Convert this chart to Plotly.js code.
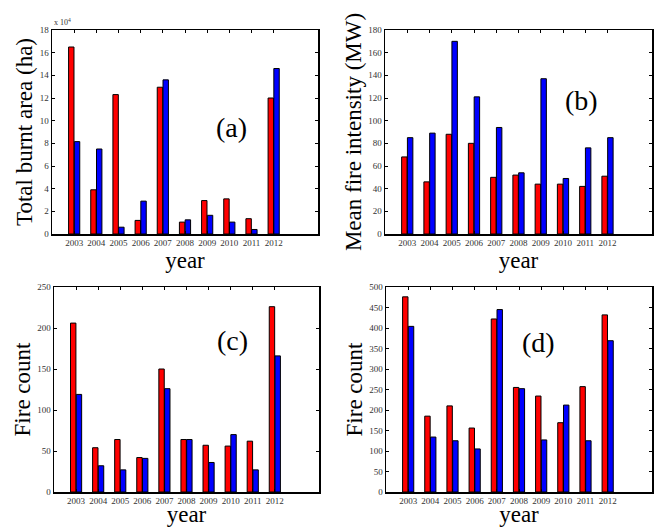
<!DOCTYPE html>
<html>
<head>
<meta charset="utf-8">
<script src="https://cdn.plot.ly/plotly-3.0.1.min.js"></script>
<style>html,body{margin:0;padding:0;background:#fff;}#chart{width:656px;height:527px;}</style>
</head>
<body>
<div id="chart"></div>
<script>
// Years (categories)
const years = [2003, 2004, 2005, 2006, 2007, 2008, 2009, 2010, 2011, 2012];
const yearLabels = ["2003","2004","2005","2006","2007","2008","2009","2010","2011","2012"];

// (a) Total burnt area (ha), in units of 10^4 ha
const burntRed  = [16.5, 3.9, 12.3, 1.2, 12.95, 1.05, 2.95, 3.1, 1.35, 12.0];
const burntBlue = [8.15, 7.5, 0.6, 2.9, 13.6, 1.25, 1.65, 1.05, 0.4, 14.6];
const burntTicks = [0, 2, 4, 6, 8, 10, 12, 14, 16, 18];

// (b) Mean fire intensity (MW)
const intensityRed  = [68, 46, 88, 80, 50, 52, 44, 44, 42, 51];
const intensityBlue = [85, 89, 170, 121, 94, 54, 137, 49, 76, 85];
const intensityTicks = [0, 20, 40, 60, 80, 100, 120, 140, 160, 180];

// (c) Fire count
const countRedC  = [206, 54, 64, 42, 150, 64, 57, 56, 62, 226];
const countBlueC = [119, 32, 27, 41, 126, 64, 36, 70, 27, 166];
const countTicksC = [0, 50, 100, 150, 200, 250];

// (d) Fire count
const countRedD  = [476, 185, 210, 156, 422, 255, 234, 169, 257, 432];
const countBlueD = [404, 134, 125, 105, 445, 252, 127, 212, 125, 369];
const countTicksD = [0, 50, 100, 150, 200, 250, 300, 350, 400, 450, 500];

const RED = '#ff0000', BLUE = '#0000ff';
function bar(y, color, xa, ya) {
  return {type:'bar', x: years, y: y, xaxis: xa, yaxis: ya,
    marker:{color: color, line:{color:'#000', width:1}}, showlegend:false, hoverinfo:'x+y'};
}
const data = [
  bar(burntRed, RED, 'x', 'y'), bar(burntBlue, BLUE, 'x', 'y'),
  bar(intensityRed, RED, 'x2', 'y2'), bar(intensityBlue, BLUE, 'x2', 'y2'),
  bar(countRedC, RED, 'x3', 'y3'), bar(countBlueC, BLUE, 'x3', 'y3'),
  bar(countRedD, RED, 'x4', 'y4'), bar(countBlueD, BLUE, 'x4', 'y4')
];

const W = 656, H = 527;
const SERIF = '"Liberation Serif", "DejaVu Serif", serif';
const tickFont = {family: SERIF, size: 9, color: '#333'};
function px(a, b) { return [a / W, b / W]; }
function py(top, bottom) { return [1 - bottom / H, 1 - top / H]; }

function xax(dom, anchor) {
  return {domain: dom, anchor: anchor, range: [2002, 2014], tickmode:'array',
    tickvals: years, ticktext: yearLabels, ticks:'inside', ticklen:3, tickcolor:'#000',
    showline:true, mirror:'ticks', linecolor:'#000', linewidth:1.5, showgrid:false, zeroline:false,
    tickfont: tickFont, title:{text:'year', font:{family:SERIF, size:23, color:'#000'}, standoff:0}};
}
function yax(dom, anchor, ticks, title) {
  return {domain: dom, anchor: anchor, range: [ticks[0], ticks[ticks.length-1]],
    tickmode:'array', tickvals: ticks, ticktext: ticks.map(String),
    ticks:'inside', ticklen:3, tickcolor:'#000',
    showline:true, mirror:'ticks', linecolor:'#000', linewidth:1.5, showgrid:false, zeroline:false,
    tickfont: tickFont, title:{text:title, font:{family:SERIF, size:23, color:'#000'}, standoff:0}};
}

const yTop = py(30, 234), yBot = py(287, 492);
const layout = {
  width: W, height: H, margin:{l:0, r:0, t:0, b:0}, paper_bgcolor:'#fff', plot_bgcolor:'#fff',
  font:{family: SERIF},
  barmode:'group', bargap:0.48, bargroupgap:0.06, showlegend:false,
  xaxis:  xax(px(52, 318), 'y'),
  yaxis:  yax(yTop, 'x', burntTicks, 'Total burnt area (ha)'),
  xaxis2: xax(px(385, 652), 'y2'),
  yaxis2: yax(yTop, 'x2', intensityTicks, 'Mean fire intensity (MW)'),
  xaxis3: xax(px(54, 319), 'y3'),
  yaxis3: yax(yBot, 'x3', countTicksC, 'Fire count'),
  xaxis4: xax(px(386, 652), 'y4'),
  yaxis4: yax(yBot, 'x4', countTicksD, 'Fire count'),
  annotations: [
    {text:'x 10<sup>4</sup>', xref:'paper', yref:'paper', x:52/W, y:1-29/H, xanchor:'left', yanchor:'bottom',
     showarrow:false, font:{family:SERIF, size:8, color:'#333'}},
    {text:'(a)', xref:'paper', yref:'paper', x:231/W, y:1-110/H, showarrow:false, font:{family:SERIF, size:28, color:'#000'}},
    {text:'(b)', xref:'paper', yref:'paper', x:600/W, y:1-83/H, showarrow:false, font:{family:SERIF, size:28, color:'#000'}},
    {text:'(c)', xref:'paper', yref:'paper', x:232/W, y:1-358/H, showarrow:false, font:{family:SERIF, size:28, color:'#000'}},
    {text:'(d)', xref:'paper', yref:'paper', x:557/W, y:1-342/H, showarrow:false, font:{family:SERIF, size:28, color:'#000'}}
  ]
};
Plotly.newPlot('chart', data, layout, {staticPlot:true, displayModeBar:false});
</script>
</body>
</html>
